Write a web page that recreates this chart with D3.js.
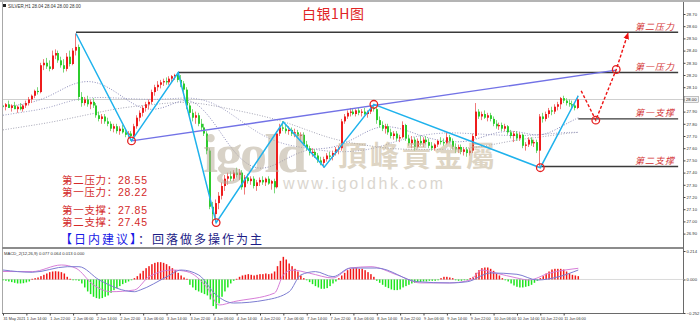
<!DOCTYPE html>
<html>
<head>
<meta charset="utf-8">
<script src="https://cdn.jsdelivr.net/npm/d3@7"></script>
<style>
  html, body { margin: 0; padding: 0; background: #fff; }
  svg { display: block; font-family: "Liberation Sans", "DejaVu Sans", sans-serif; }
  .cn { font-family: "Noto Sans CJK SC", sans-serif; }
  .note { font-family: "Liberation Sans", "Noto Sans CJK SC", sans-serif; }
</style>
</head>
<body>
<svg id="chart" width="700" height="324"></svg>
<script>
// hourly silver candles [open, high, low, close]
const ohlc = [
  [27.95,27.98,27.92,27.94],[27.94,27.97,27.91,27.96],[27.96,27.99,27.93,27.93],[27.93,27.96,27.90,27.95],
  [27.95,27.98,27.92,27.92],[27.92,27.95,27.89,27.94],[27.94,27.97,27.91,27.92],[27.92,27.96,27.90,27.95],
  [27.95,27.99,27.93,27.97],[27.97,28.02,27.95,28.00],[28.00,28.04,27.97,28.03],[28.03,28.08,28.01,28.07],
  [28.07,28.10,28.04,28.06],[28.06,28.30,28.05,28.28],[28.28,28.33,28.24,28.30],[28.30,28.34,28.25,28.27],
  [28.27,28.32,28.23,28.25],[28.25,28.40,28.24,28.36],[28.36,28.41,28.33,28.38],[28.38,28.40,28.30,28.32],
  [28.32,28.35,28.26,28.28],[28.28,28.33,28.22,28.25],[28.25,28.38,28.23,28.35],[28.35,28.40,28.27,28.29],
  [28.29,28.42,28.28,28.40],[28.40,28.54,28.36,28.43],[28.43,28.45,27.99,28.02],[28.02,28.06,27.94,27.97],
  [27.97,28.02,27.95,28.00],[28.00,28.03,27.94,27.96],[27.96,28.00,27.92,27.98],[27.98,28.01,27.93,27.95],
  [27.95,27.97,27.85,27.87],[27.87,27.90,27.82,27.84],[27.84,27.88,27.80,27.86],[27.86,27.88,27.80,27.82],
  [27.82,27.85,27.78,27.80],[27.80,27.82,27.74,27.76],[27.76,27.80,27.73,27.78],[27.78,27.80,27.72,27.74],
  [27.74,27.78,27.71,27.76],[27.76,27.79,27.72,27.73],[27.73,27.76,27.69,27.71],[27.71,27.74,27.68,27.72],
  [27.72,27.74,27.66,27.70],[27.70,27.80,27.69,27.78],[27.78,27.87,27.76,27.85],[27.85,27.91,27.82,27.89],
  [27.89,27.95,27.86,27.93],[27.93,27.98,27.90,27.96],[27.96,28.00,27.92,27.98],[27.98,28.08,27.96,28.06],
  [28.06,28.12,28.03,28.10],[28.10,28.15,28.07,28.12],[28.12,28.16,28.09,28.14],[28.14,28.17,28.11,28.15],
  [28.15,28.18,28.12,28.14],[28.14,28.19,28.12,28.17],[28.17,28.20,28.14,28.19],[28.19,28.21,28.16,28.20],
  [28.20,28.22,28.14,28.16],[28.16,28.20,28.10,28.13],[28.13,28.15,28.06,28.08],[28.08,28.10,27.92,27.95],
  [27.95,27.97,27.86,27.89],[27.89,27.92,27.82,27.85],[27.85,27.90,27.80,27.87],[27.87,27.89,27.78,27.80],
  [27.80,27.84,27.74,27.77],[27.77,27.80,27.70,27.72],[27.72,27.74,27.55,27.58],[27.58,27.60,27.10,27.12],
  [27.12,27.16,27.00,27.06],[27.06,27.18,26.99,27.15],[27.15,27.24,27.10,27.21],[27.21,27.32,27.18,27.29],
  [27.29,27.38,27.25,27.35],[27.35,27.40,27.30,27.37],[27.37,27.41,27.33,27.35],[27.35,27.42,27.33,27.40],
  [27.40,27.44,27.36,27.38],[27.38,27.43,27.34,27.40],[27.40,27.42,27.26,27.28],[27.28,27.38,27.22,27.36],
  [27.36,27.39,27.31,27.33],[27.33,27.37,27.30,27.35],[27.35,27.37,27.27,27.29],[27.29,27.34,27.25,27.32],
  [27.32,27.36,27.29,27.34],[27.34,27.37,27.30,27.32],[27.32,27.36,27.29,27.35],[27.35,27.37,27.30,27.31],
  [27.31,27.34,27.26,27.33],[27.33,27.35,27.23,27.28],[27.28,27.74,27.27,27.72],[27.72,27.80,27.70,27.77],
  [27.77,27.82,27.74,27.76],[27.76,27.79,27.72,27.74],[27.74,27.78,27.71,27.75],[27.75,27.77,27.70,27.72],
  [27.72,27.76,27.69,27.73],[27.73,27.75,27.68,27.70],[27.70,27.73,27.66,27.71],[27.71,27.73,27.62,27.63],
  [27.63,27.66,27.58,27.60],[27.60,27.62,27.54,27.56],[27.56,27.60,27.53,27.57],[27.57,27.59,27.52,27.54],
  [27.54,27.56,27.48,27.50],[27.50,27.53,27.46,27.48],[27.48,27.53,27.44,27.51],[27.51,27.56,27.49,27.54],
  [27.54,27.57,27.51,27.53],[27.53,27.58,27.50,27.56],[27.56,27.61,27.54,27.59],[27.59,27.62,27.55,27.60],
  [27.60,27.84,27.58,27.82],[27.82,27.88,27.80,27.86],[27.86,27.91,27.84,27.89],[27.89,27.93,27.86,27.90],
  [27.90,27.92,27.87,27.88],[27.88,27.92,27.86,27.91],[27.91,27.93,27.87,27.89],[27.89,27.92,27.86,27.90],
  [27.90,27.93,27.87,27.88],[27.88,27.91,27.85,27.90],[27.90,27.94,27.88,27.93],[27.93,27.96,27.90,27.92],
  [27.92,27.93,27.80,27.83],[27.83,27.86,27.77,27.79],[27.79,27.82,27.74,27.76],[27.76,27.80,27.72,27.78],
  [27.78,27.80,27.71,27.73],[27.73,27.76,27.68,27.70],[27.70,27.74,27.67,27.72],[27.72,27.74,27.66,27.68],
  [27.68,27.71,27.65,27.69],[27.69,27.82,27.68,27.79],[27.79,27.80,27.66,27.68],[27.68,27.71,27.62,27.64],
  [27.64,27.70,27.60,27.67],[27.67,27.69,27.58,27.61],[27.61,27.68,27.60,27.66],[27.66,27.70,27.62,27.64],
  [27.64,27.69,27.61,27.67],[27.67,27.70,27.63,27.65],[27.65,27.68,27.60,27.62],[27.62,27.65,27.58,27.60],
  [27.60,27.64,27.58,27.63],[27.63,27.67,27.61,27.66],[27.66,27.69,27.63,27.65],[27.65,27.68,27.62,27.64],
  [27.64,27.73,27.63,27.69],[27.69,27.71,27.64,27.66],[27.66,27.68,27.59,27.61],[27.61,27.64,27.56,27.59],
  [27.59,27.63,27.56,27.61],[27.61,27.63,27.55,27.57],[27.57,27.61,27.54,27.59],[27.59,27.61,27.53,27.56],
  [27.56,27.60,27.54,27.58],[27.58,27.72,27.56,27.70],[27.70,27.97,27.68,27.90],[27.90,27.92,27.84,27.86],
  [27.86,27.90,27.83,27.88],[27.88,27.91,27.84,27.85],[27.85,27.89,27.82,27.87],[27.87,27.89,27.82,27.84],
  [27.84,27.86,27.78,27.80],[27.80,27.83,27.76,27.78],[27.78,27.81,27.75,27.79],[27.79,27.81,27.74,27.76],
  [27.76,27.80,27.74,27.78],[27.78,27.79,27.71,27.73],[27.73,27.75,27.68,27.70],[27.70,27.74,27.65,27.72],
  [27.72,27.74,27.66,27.68],[27.68,27.73,27.66,27.71],[27.71,27.72,27.60,27.62],[27.62,27.65,27.58,27.63],
  [27.63,27.69,27.61,27.67],[27.67,27.69,27.62,27.64],[27.64,27.67,27.61,27.65],[27.65,27.67,27.56,27.58],
  [27.58,27.88,27.44,27.86],[27.86,27.89,27.81,27.84],[27.84,27.90,27.82,27.88],[27.88,27.93,27.85,27.91],
  [27.91,27.94,27.87,27.90],[27.90,27.96,27.88,27.94],[27.94,27.98,27.91,27.96],[27.96,28.02,27.92,28.01],
  [28.01,28.03,27.97,27.99],[27.99,28.01,27.95,27.97],[27.97,28.00,27.94,27.96],[27.96,27.99,27.93,27.95],
  [27.95,27.97,27.91,27.93],[27.93,28.03,27.92,28.00]
];

// moving averages, sampled every 8 bars
const maIdx  = [0,8,16,24,32,40,48,56,64,72,80,88,96,104,112,120,128,136,144,152,160,168,176,184,192,197];
const maFast = [27.94,27.96,28.02,28.14,28.16,28.04,27.90,27.93,28.04,27.83,27.52,27.40,27.50,27.60,27.59,27.67,27.79,27.77,27.69,27.65,27.65,27.73,27.75,27.68,27.79,27.85];
const maMid  = [27.87,27.90,27.93,28.00,28.02,28.01,28.00,28.00,28.02,27.98,27.85,27.71,27.63,27.60,27.57,27.57,27.60,27.67,27.71,27.73,27.72,27.71,27.70,27.71,27.73,27.73];
const maSlow = [27.75,27.78,27.81,27.85,27.89,27.93,27.95,27.97,27.98,27.95,27.91,27.87,27.82,27.75,27.68,27.64,27.61,27.59,27.59,27.59,27.60,27.63,27.67,27.69,27.72,27.73];

// MACD histogram, one value per bar
const macdHist = [
  -0.005,-0.01,-0.015,-0.02,-0.025,-0.03,-0.03,-0.028,-0.022,-0.015,
  0.005,0.01,0.015,
  0.025,0.035,0.045,0.055,0.06,0.062,0.06,0.055,0.045,
  0.02,0.005,-0.005,-0.005,-0.01,
  -0.03,-0.06,-0.09,-0.11,-0.13,-0.14,-0.145,-0.14,-0.13,-0.12,-0.1,
  -0.08,-0.065,-0.05,-0.035,-0.025,-0.015,-0.005,
  0.01,0.025,0.045,0.065,0.085,0.1,0.115,0.125,0.13,0.13,0.125,0.115,0.1,0.085,0.07,0.05,
  0.03,0.015,0.005,
  -0.04,-0.06,-0.08,-0.09,-0.1,-0.11,-0.12,-0.15,-0.2,-0.22,-0.18,-0.13,-0.09,-0.06,-0.03,
  -0.01,0.005,
  0.02,0.03,0.035,0.04,0.035,0.03,0.035,0.04,0.04,0.045,0.04,0.045,
  0.06,0.1,0.14,0.17,0.15,0.12,0.1,0.08,0.06,
  0.03,0.01,-0.005,
  -0.02,-0.035,-0.05,-0.06,-0.07,-0.07,-0.065,-0.05,-0.03,-0.015,
  0.01,0.03,0.05,0.07,0.08,
  0.085,0.085,0.08,0.08,0.07,0.055,0.04,0.02,
  -0.01,-0.025,-0.04,-0.055,-0.065,-0.075,-0.08,-0.08,-0.075,-0.06,-0.05,-0.04,-0.03,
  -0.025,-0.02,-0.02,-0.015,-0.015,-0.01,-0.01,-0.01,-0.005,
  0.01,0.02,0.02,0.015,0.01,
  -0.005,-0.01,-0.01,-0.005,-0.005,
  0.01,0.02,0.05,0.07,0.085,0.09,0.09,0.08,0.065,0.045,0.03,
  0.01,-0.005,
  -0.015,-0.03,-0.045,-0.055,-0.06,-0.06,-0.055,-0.05,-0.04,-0.025,-0.01,
  0.01,0.025,0.045,0.06,0.075,0.08,0.08,0.08,0.075,0.06,0.045,0.035,0.03,0.025
];
const macdMainIdx = [0,10,22,26,33,45,47,56,61,67,73,79,90,98,102,107,113,119,128,142,153,159,167,176,183,190,197];
const macdMainVal = [0.071,0.054,0.096,0.096,-0.004,-0.092,-0.079,0.019,0.071,0.034,-0.117,-0.177,-0.154,-0.092,0.034,0.059,0.021,0.086,0.086,-0.017,-0.026,-0.017,0.049,0.039,-0.004,0.019,0.071];
const macdSigIdx  = [0,10,20,25,31,37,45,50,58,63,70,74,79,93,96,99,105,113,119,126,135,143,153,160,164,169,176,180,187,197];
const macdSigVal  = [0.06,0.059,0.109,0.084,-0.041,-0.092,-0.079,0.021,0.071,0.059,-0.064,-0.192,-0.167,-0.102,0.034,0.071,0.047,0.011,0.086,0.096,0.034,-0.026,-0.026,-0.004,0.071,0.047,0.011,-0.004,0.047,0.084];

// zigzag swing points (bar index, price)
const zzIdx   = [25, 44, 60, 73, 96, 110, 127, 184, 197];
const zzPrice = [28.54, 27.66, 28.22, 26.99, 27.815, 27.445, 27.96, 27.44, 28.03];

// rising trend line
const trendIdx   = [44, 210];
const trendPrice = [27.66, 28.24];

// projected path (red dashes)
const projIdx   = [198, 203, 210, 214];
const projPrice = [28.07, 27.83, 28.245, 28.54];

const circleIdx   = [44, 73, 127, 184, 203, 210];
const circlePrice = [27.66, 26.99, 27.96, 27.44, 27.83, 28.245];

// horizontal levels
const levelNames  = ['第二压力', '第一压力', '第一支撑', '第二支撑'];
const levelPrices = [28.55, 28.22, 27.84, 27.45];
const levelStart  = [25, 60, 197, 184];
const levelEnd    = 231.2;

const noteLines = ['第二压力：28.55', '第一压力：28.22', '第一支撑：27.85', '第二支撑：27.45'];
const noteBaselines = [183.8, 195.6, 213.5, 226];

const priceTicks = [28.70,28.60,28.50,28.40,28.30,28.20,28.10,28.00,27.90,27.80,27.70,27.60,27.50,27.40,27.30,27.20,27.10,27.00,26.90];
const macdTicks = [0.214, 0, -0.252];
const lastPrice = 28.00;

const timeLabels = ['31 May 2021','1 Jun 14:00','1 Jun 22:00','2 Jun 06:00','2 Jun 14:00','2 Jun 22:00',
  '3 Jun 06:00','3 Jun 14:00','3 Jun 22:00','4 Jun 06:00','4 Jun 14:00','4 Jun 22:00','7 Jun 06:00',
  '7 Jun 14:00','7 Jun 22:00','8 Jun 06:00','8 Jun 14:00','8 Jun 22:00','9 Jun 06:00','9 Jun 14:00',
  '9 Jun 22:00','10 Jun 06:00','10 Jun 14:00','10 Jun 22:00','11 Jun 06:00'];

const W = 700, H = 324;
const axisX = 683.5;
const upColor = '#ee1c1c', downColor = '#2ccc2c';

const svg = d3.select('#chart');

const x = d3.scaleLinear().domain([0, 233]).range([3, 683.4]);
const y = d3.scaleLinear().domain([26.90, 28.70]).range([233.6, 14]);
const yM = d3.scaleLinear().domain([-0.252, 0.214]).range([313, 251]);

// frame
svg.append('rect').attr('x', 0).attr('y', 0).attr('width', W).attr('height', 2).attr('fill', '#b4b4b4');
svg.append('line').attr('x1', 2.5).attr('x2', 2.5).attr('y1', 2).attr('y2', 314).attr('stroke', '#a8a8a8');

const defs = svg.append('defs');
defs.append('clipPath').attr('id', 'mainClip')
  .append('rect').attr('x', 3).attr('y', 3).attr('width', axisX - 3).attr('height', 244);
defs.append('marker').attr('id', 'arrow').attr('viewBox', '0 0 10 10')
  .attr('refX', 8).attr('refY', 5).attr('markerWidth', 5).attr('markerHeight', 5)
  .attr('orient', 'auto')
  .append('path').attr('d', 'M0,1 L10,5 L0,9 z').attr('fill', '#ee1111');

const main = svg.append('g').attr('clip-path', 'url(#mainClip)');

// bid line
main.append('line')
  .attr('x1', 3).attr('x2', axisX)
  .attr('y1', Math.round(y(lastPrice)) + 0.5).attr('y2', Math.round(y(lastPrice)) + 0.5)
  .attr('stroke', '#cfcfcf');

// moving averages
const maLine = d3.line().x(d => x(d[0])).y(d => y(d[1])).curve(d3.curveBasis);
[[maSlow, '#a4a4b4'], [maMid, '#9c9cc0'], [maFast, '#8a8ab8']].forEach(([vals, col]) => {
  main.append('path')
    .datum(vals.map((v, k) => [maIdx[k], v]))
    .attr('d', maLine)
    .attr('fill', 'none')
    .attr('stroke', col)
    .attr('stroke-width', 1)
    .attr('stroke-dasharray', '1,1.6');
});

// candles
const candles = main.append('g');
candles.selectAll('line')
  .data(ohlc)
  .join('line')
  .attr('x1', (d, i) => Math.round(x(i)) - 0.5)
  .attr('x2', (d, i) => Math.round(x(i)) - 0.5)
  .attr('y1', d => y(d[1]))
  .attr('y2', d => y(d[2]))
  .attr('stroke', d => d[3] >= d[0] ? '#f07a7a' : '#7ad87a')
  .attr('stroke-width', 1);

candles.selectAll('rect')
  .data(ohlc)
  .join('rect')
  .attr('x', (d, i) => Math.round(x(i)) - 1)
  .attr('width', 2)
  .attr('y', d => y(Math.max(d[0], d[3])))
  .attr('height', d => Math.max(1, Math.abs(y(d[0]) - y(d[3]))))
  .attr('fill', d => d[3] >= d[0] ? upColor : downColor);

// watermark
const wm = main.append('g').attr('opacity', 0.55);
wm.append('text')
  .attr('x', 203).attr('y', 172)
  .attr('font-family', '"Liberation Serif", serif')
  .attr('font-weight', 'bold')
  .attr('font-size', 54)
  .attr('textLength', 104)
  .attr('fill', '#b9ae9a')
  .text('igold');
wm.append('text')
  .attr('class', 'cn')
  .attr('x', 338).attr('y', 167)
  .attr('font-weight', 'bold')
  .attr('font-size', 29)
  .attr('textLength', 157)
  .attr('fill', '#c4b394')
  .text('頂峰貴金屬');
wm.append('text')
  .attr('x', 283).attr('y', 189)
  .attr('font-size', 16)
  .attr('textLength', 160)
  .attr('fill', '#bdb5a8')
  .text('www.igoldhk.com');

// level lines
levelPrices.forEach((p, k) => {
  main.append('line')
    .attr('x1', x(levelStart[k])).attr('x2', x(levelEnd))
    .attr('y1', y(p)).attr('y2', y(p))
    .attr('stroke', '#3a3a3a')
    .attr('stroke-width', 1.4);
});

// trend line
main.append('line')
  .attr('x1', x(trendIdx[0])).attr('y1', y(trendPrice[0]))
  .attr('x2', x(trendIdx[1])).attr('y2', y(trendPrice[1]))
  .attr('stroke', '#7272e6')
  .attr('stroke-width', 1.4);

// zigzag
main.append('path')
  .datum(zzIdx.map((d, k) => [d, zzPrice[k]]))
  .attr('d', d3.line().x(d => x(d[0])).y(d => y(d[1])))
  .attr('fill', 'none')
  .attr('stroke', '#1fb2ec')
  .attr('stroke-width', 1.5);

// projection
main.append('path')
  .datum(projIdx.map((d, k) => [d, projPrice[k]]))
  .attr('d', d3.line().x(d => x(d[0])).y(d => y(d[1])))
  .attr('fill', 'none')
  .attr('stroke', '#ee1111')
  .attr('stroke-width', 1.4)
  .attr('stroke-dasharray', '3,2')
  .attr('marker-end', 'url(#arrow)');

main.selectAll('circle.mark')
  .data(circleIdx.map((d, k) => [d, circlePrice[k]]))
  .join('circle')
  .attr('class', 'mark')
  .attr('cx', d => x(d[0]))
  .attr('cy', d => y(d[1]))
  .attr('r', 3.8)
  .attr('fill', 'none')
  .attr('stroke', '#e52222')
  .attr('stroke-width', 1.3);

// level names on the right
svg.selectAll('text.lvl')
  .data(levelNames)
  .join('text')
  .attr('class', 'lvl cn')
  .attr('x', 635)
  .attr('y', (d, k) => y(levelPrices[k]) - 2.5)
  .attr('font-size', 9)
  .attr('font-style', 'italic')
  .attr('letter-spacing', 1)
  .attr('fill', '#d43232')
  .text(d => d);

// title
svg.append('text')
  .attr('class', 'cn')
  .attr('x', 302).attr('y', 18.5)
  .attr('font-size', 14)
  .attr('letter-spacing', 0.5)
  .attr('fill', '#e02424')
  .text('白银1H图');

// note block
svg.selectAll('text.note')
  .data(noteLines)
  .join('text')
  .attr('class', 'note')
  .attr('x', 62)
  .attr('y', (d, k) => noteBaselines[k])
  .attr('font-size', 10.5)
  .attr('textLength', 85)
  .attr('fill', '#d42a2a')
  .text(d => d);

const advice = svg.append('text')
  .attr('class', 'cn')
  .attr('x', 60).attr('y', 243.5)
  .attr('font-size', 12)
  .attr('textLength', 202);
advice.append('tspan').attr('fill', '#1a1ae6').text('【日内建议】');
advice.append('tspan').attr('fill', '#1c1c86').text('：回落做多操作为主');

// header text
svg.append('rect').attr('x', 3).attr('y', 4).attr('width', 3).attr('height', 3).attr('fill', '#222');
svg.append('text')
  .attr('x', 8).attr('y', 8)
  .attr('font-size', 4.5)
  .attr('fill', '#333')
  .text('SILVER,H1  28.04 28.04 28.00 28.00');

// separators
svg.append('line').attr('x1', 2).attr('x2', axisX).attr('y1', 248).attr('y2', 248)
  .attr('stroke', '#8c8c8c').attr('stroke-width', 2);
svg.append('line').attr('x1', 2).attr('x2', axisX).attr('y1', 313.5).attr('y2', 313.5)
  .attr('stroke', '#6a6a6a');
svg.append('line').attr('x1', axisX).attr('x2', axisX).attr('y1', 2).attr('y2', 314)
  .attr('stroke', '#6a6a6a');

// right price axis
const yAxis = svg.append('g')
  .attr('transform', `translate(${axisX},0)`)
  .call(d3.axisRight(y).tickValues(priceTicks).tickSize(2).tickFormat(d3.format('.2f')));
yAxis.select('.domain').remove();
yAxis.selectAll('line').attr('stroke', '#444');
yAxis.selectAll('text').attr('font-size', 4.2).attr('fill', '#333').attr('x', 3);

// last price tag
svg.append('rect')
  .attr('x', axisX + 1).attr('y', y(lastPrice) - 3)
  .attr('width', 14).attr('height', 6)
  .attr('fill', '#f2f2f2').attr('stroke', '#888').attr('stroke-width', 0.5);
svg.append('text')
  .attr('x', axisX + 2.5).attr('y', y(lastPrice) + 1.7)
  .attr('font-size', 4.2).attr('fill', '#222')
  .text(d3.format('.2f')(lastPrice));

// MACD panel
svg.append('text')
  .attr('x', 4).attr('y', 254.5)
  .attr('font-size', 4.2)
  .attr('fill', '#333')
  .text('MACD_2(12,26,9) 0.077 0.064 0.013 0.000');

svg.append('line')
  .attr('x1', 3).attr('x2', axisX)
  .attr('y1', yM(0)).attr('y2', yM(0))
  .attr('stroke', '#dadada');

svg.append('g').selectAll('rect')
  .data(macdHist)
  .join('rect')
  .attr('x', (d, i) => x(i) - 0.75)
  .attr('width', 1.5)
  .attr('y', d => yM(Math.max(0, d)))
  .attr('height', d => Math.max(0.8, Math.abs(yM(d) - yM(0))))
  .attr('fill', d => d >= 0 ? '#f01818' : '#1ee61e');

const macdLine = d3.line().x(d => x(d[0])).y(d => yM(d[1])).curve(d3.curveMonotoneX);
svg.append('path')
  .datum(macdSigIdx.map((d, k) => [d, macdSigVal[k]]))
  .attr('d', macdLine)
  .attr('fill', 'none').attr('stroke', '#d77ed8').attr('stroke-width', 1);
svg.append('path')
  .datum(macdMainIdx.map((d, k) => [d, macdMainVal[k]]))
  .attr('d', macdLine)
  .attr('fill', 'none').attr('stroke', '#7d7dd2').attr('stroke-width', 1);

const mAxis = svg.append('g')
  .attr('transform', `translate(${axisX},0)`)
  .call(d3.axisRight(yM).tickValues(macdTicks).tickSize(2).tickFormat(d3.format('.3f')));
mAxis.select('.domain').remove();
mAxis.selectAll('line').attr('stroke', '#444');
mAxis.selectAll('text').attr('font-size', 4.2).attr('fill', '#333').attr('x', 3);

// time axis
const xAxis = svg.append('g')
  .attr('transform', 'translate(0,313.5)')
  .call(d3.axisBottom(x)
    .tickValues(timeLabels.map((d, k) => k * 8))
    .tickSize(2)
    .tickFormat((d, k) => timeLabels[k]));
xAxis.select('.domain').remove();
xAxis.selectAll('line').attr('stroke', '#444');
xAxis.selectAll('text')
  .attr('font-size', 3.8)
  .attr('fill', '#333')
  .attr('text-anchor', 'start')
  .attr('x', 0)
  .attr('y', 4)
  .attr('dy', '0.71em');
</script>
</body>
</html>
